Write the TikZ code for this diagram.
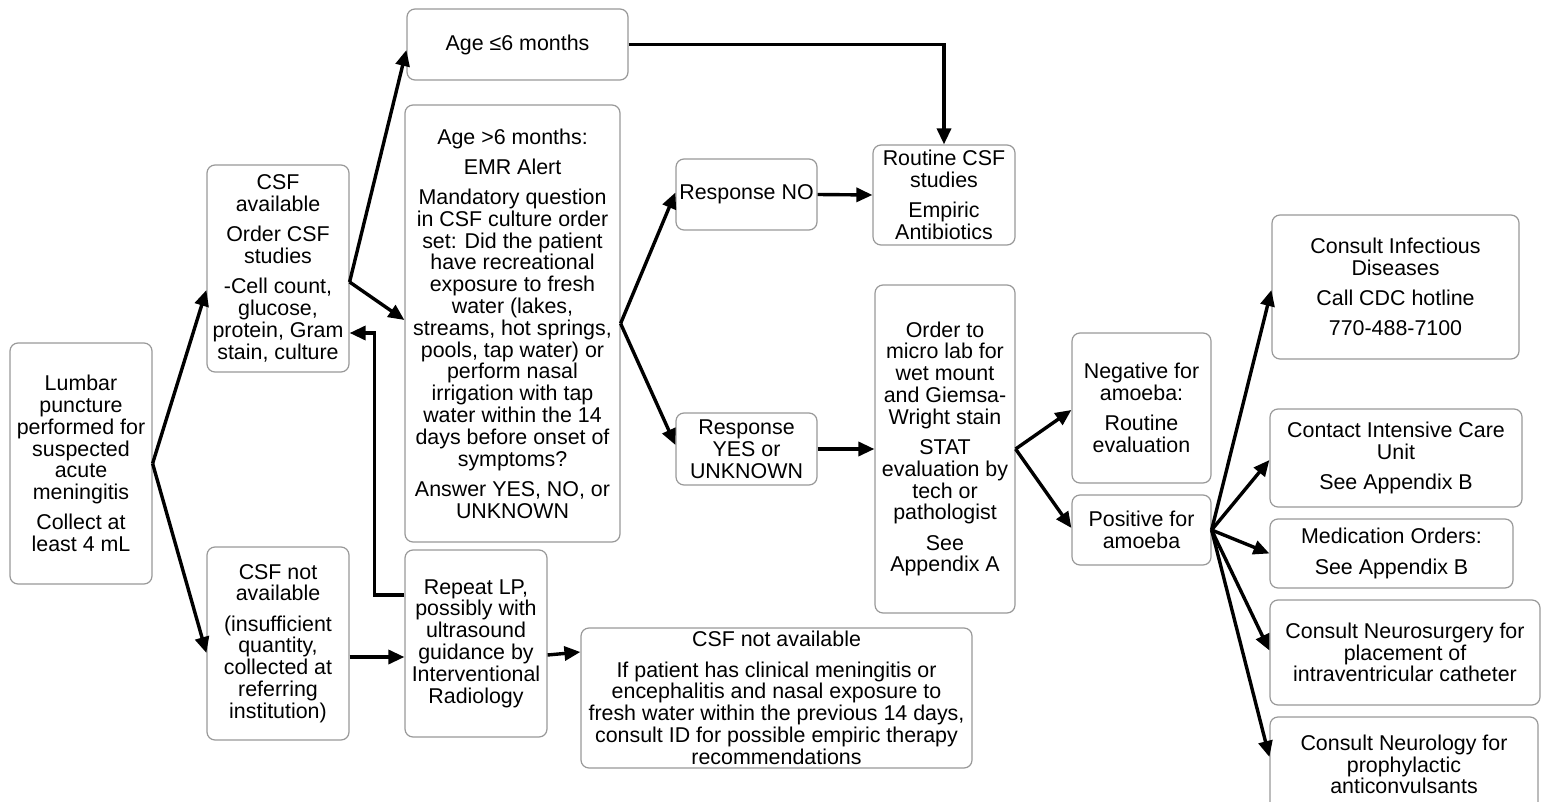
\documentclass[tikz,border=0pt]{standalone}
\usepackage{fontspec}
\setmainfont{Liberation Sans}
\usetikzlibrary{arrows.meta}
\tikzset{
  box/.style={draw=black!40, line width=0.6pt, rounded corners=4pt, align=center,
    inner sep=1pt, font=\fontsize{10.7}{10.9}\selectfont, fill=white},
  arr/.style={draw=black, line width=1.7pt, -{Triangle[length=8pt,width=7pt]}},
}
\newcommand{\pg}{\\[4.2pt]}
\begin{document}
\begin{tikzpicture}[x=0.5pt,y=-0.5pt]
\useasboundingbox (0,0) rectangle (1541,802);
% nodes
\node[box, minimum width=71pt, minimum height=120.5pt] (lp) at (81,463.5)
 {Lumbar\\puncture\\performed for\\suspected\\acute\\meningitis\pg Collect at\\least 4 mL};
\node[box, minimum width=71pt, minimum height=103.5pt] (av) at (278,268.5)
 {CSF\\available\pg Order CSF\\studies\pg -Cell count,\\glucose,\\protein, Gram\\stain, culture};
\node[box, minimum width=71pt, minimum height=96.5pt] (na) at (278,643.5)
 {CSF not\\available\pg (insufficient\\quantity,\\collected at\\referring\\institution)};
\node[box, minimum width=110.5pt, minimum height=35.5pt] (a6) at (517.5,44.5)
 {Age ≤6 months};
\node[box, minimum width=107.5pt, minimum height=218.5pt] (ag) at (512.5,323.5)
 {Age >6 months:\pg EMR Alert\pg Mandatory question\\in CSF culture order\\set: Did the patient\\have recreational\\exposure to fresh\\water (lakes,\\streams, hot springs,\\pools, tap water) or\\perform nasal\\irrigation with tap\\water within the 14\\days before onset of\\symptoms?\pg Answer YES, NO, or\\UNKNOWN};
\node[box, minimum width=71pt, minimum height=93.5pt] (rep) at (476,643.5)
 {Repeat LP,\\possibly with\\ultrasound\\guidance by\\Interventional\\Radiology};
\node[box, minimum width=195.5pt, minimum height=70pt] (na2) at (776.5,698)
 {CSF not available\pg If patient has clinical meningitis or\\encephalitis and nasal exposure to\\fresh water within the previous 14 days,\\consult ID for possible empiric therapy\\recommendations};
\node[box, minimum width=70.5pt, minimum height=35.5pt] (no) at (746.5,194.5)
 {Response NO};
\node[box, minimum width=70.5pt, minimum height=36pt] (yes) at (746.5,449)
 {Response\\YES or\\UNKNOWN};
\node[box, minimum width=71pt, minimum height=50pt] (rt) at (944,195)
 {Routine CSF\\studies\pg Empiric\\Antibiotics};
\node[box, minimum width=70pt, minimum height=164pt] (ord) at (945,449)
 {Order to\\micro lab for\\wet mount\\and Giemsa-\\Wright stain\pg STAT\\evaluation by\\tech or\\pathologist\pg See\\Appendix A};
\node[box, minimum width=69.5pt, minimum height=75pt] (neg) at (1141.5,408)
 {Negative for\\amoeba:\pg Routine\\evaluation};
\node[box, minimum width=69.5pt, minimum height=35pt] (pos) at (1141.5,530)
 {Positive for\\amoeba};
\node[box, minimum width=123.5pt, minimum height=72pt] (id) at (1395.5,287)
 {Consult Infectious\\Diseases\pg Call CDC hotline\pg 770-488-7100};
\node[box, minimum width=126pt, minimum height=49pt] (icu) at (1396,458)
 {Contact Intensive Care\\Unit\pg See Appendix B};
\node[box, minimum width=121.5pt, minimum height=34.5pt] (med) at (1391.5,553.5)
 {Medication Orders:\pg See Appendix B};
\node[box, minimum width=135pt, minimum height=52.5pt] (ns) at (1405,652.5)
 {Consult Neurosurgery for\\placement of\\intraventricular catheter};
\node[box, minimum width=134pt, minimum height=47.5pt] (nl) at (1404,764.5)
 {Consult Neurology for\\prophylactic\\anticonvulsants};
% connectors
\draw[arr] (lp.east) -- ([yshift=-10.75pt]av.west);
\draw[arr] (lp.east) -- ([yshift=-4.75pt]na.west);
\draw[arr] ([yshift=-6.75pt]av.east) -- ([yshift=-2.75pt]a6.west);
\draw[arr] ([yshift=-6.75pt]av.east) -- ([yshift=1.75pt]ag.west);
\draw[arr] (a6.east) -| (rt.north);
\draw[arr] (ag.east) -- ([yshift=1pt]no.west);
\draw[arr] (ag.east) -- ([yshift=2pt]yes.west);
\draw[arr] (no.east) -- (rt.west);
\draw[arr] (yes.east) -- (ord.west);
\draw[arr] (ord.east) -- ([yshift=-1pt]neg.west);
\draw[arr] (ord.east) -- ([yshift=1pt]pos.west);
\draw[arr] (pos.east) -- ([yshift=-1.5pt]id.west);
\draw[arr] (pos.east) -- ([yshift=-1pt]icu.west);
\draw[arr] (pos.east) -- (med.west);
\draw[arr] (pos.east) -- ([yshift=1pt]ns.west);
\draw[arr] (pos.east) -- ([yshift=3.75pt]nl.west);
\draw[arr] ([yshift=-6.75pt]na.east) -- ([yshift=-6.75pt]rep.west);
\draw[arr] ([yshift=-5.75pt]rep.east) -- ([yshift=23pt]na2.west);
\draw[arr] ([yshift=24.25pt]rep.west) -- ++(-15pt,0) |- ([yshift=-32.25pt]av.east);
\end{tikzpicture}
\end{document}
